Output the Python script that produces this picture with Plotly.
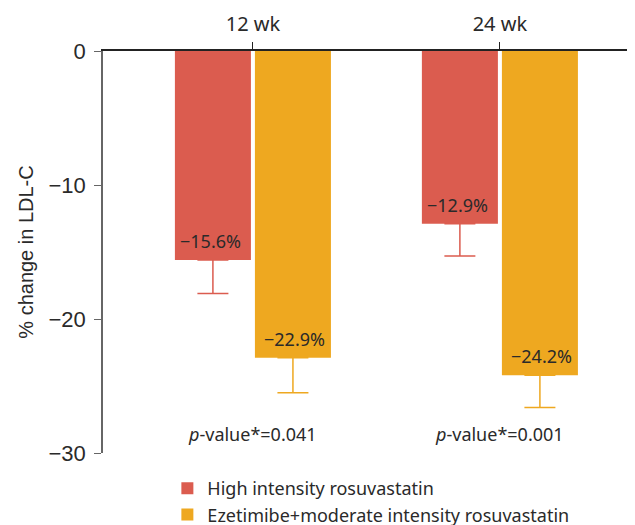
import plotly.graph_objects as go

categories = ["12 wk", "24 wk"]
high_values = [-15.6, -12.9]
high_err = [2.5, 2.4]
eze_values = [-22.9, -24.2]
eze_err = [2.6, 2.4]
p_labels = ["<i>p</i>-value*=0.041", "<i>p</i>-value*=0.001"]
p_label_y = [-28.6, -28.6]
series_names = ["High intensity rosuvastatin", "Ezetimibe+moderate intensity rosuvastatin"]
y_ticks = [0, -10, -20, -30]

RED = "#DB5C4F"
ORANGE = "#EEA820"
TXT = "#2a2a2a"

fig = go.Figure()
series = [(series_names[0], high_values, high_err, RED, -42),
          (series_names[1], eze_values, eze_err, ORANGE, 42)]
for name, vals, errs, col, dx in series:
    fig.add_trace(go.Bar(
        x=categories, y=vals, name=name, marker=dict(color=col, line=dict(width=0)),
        error_y=dict(type="data", symmetric=False, array=[0] * len(errs), arrayminus=errs,
                     color=col, thickness=1.5, width=15.5),
        hoverinfo="skip",
    ))
    for c, v in zip(categories, vals):
        fig.add_annotation(x=c, y=v, xshift=dx, yshift=19, text=f"−{abs(v):.1f}%",
                           showarrow=False, yanchor="middle",
                           font=dict(family="Noto Sans", size=18, color=TXT))

for c, t, yv in zip(categories, p_labels, p_label_y):
    fig.add_annotation(x=c, y=yv, text=t, showarrow=False,
                       font=dict(family="Noto Sans", size=18, color=TXT))

fig.update_layout(
    width=635, height=525,
    margin=dict(l=95, r=8, t=43, b=80),
    paper_bgcolor="white", plot_bgcolor="white",
    barmode="group", bargap=0.352, bargroupgap=0.05,
    showlegend=True,
    legend=dict(orientation="v", xref="paper", yref="container",
                x=0.121, xanchor="left", y=0.12, yanchor="top",
                font=dict(family="Noto Sans", size=18, color=TXT), tracegroupgap=0,
                bgcolor="rgba(0,0,0,0)"),
    xaxis=dict(side="top", range=[-0.607, 1.547], showline=True, linecolor="#222", linewidth=1.5,
               ticks="outside", ticklen=7, tickcolor="#222", tickwidth=1.2, ticklabelstandoff=3,
               tickfont=dict(family="Noto Sans", size=20, color=TXT), showgrid=False,
               zeroline=False, fixedrange=True, automargin=False),
    yaxis=dict(range=[-30, 0], tickvals=y_ticks, showline=True, linecolor="#666", linewidth=1.5,
               ticks="outside", ticklen=7, tickcolor="#666", tickwidth=1.2, ticklabelstandoff=4,
               tickfont=dict(family="Liberation Sans", size=22, color=TXT),
               showgrid=False, zeroline=False, automargin=False,
               title=dict(text="% change in LDL-C", standoff=10,
                          font=dict(family="Liberation Sans", size=20, color=TXT))),
)

fig.write_html("out.html")
